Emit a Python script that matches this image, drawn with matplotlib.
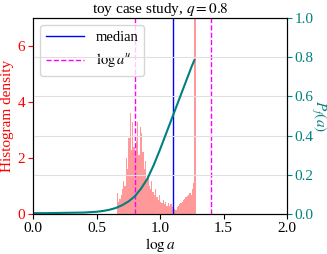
import numpy as np
import matplotlib
matplotlib.use("Agg")
import matplotlib.pyplot as plt

plt.rcParams['font.family'] = ['Liberation Serif', 'DejaVu Serif']
plt.rcParams['mathtext.fontset'] = 'stix'
plt.rcParams['font.size'] = 11

# histogram of log a (bin left edges, width 0.01) and densities
bin_left = [0.66, 0.67, 0.68, 0.69, 0.70, 0.71, 0.72, 0.73, 0.74, 0.75,
            0.76, 0.77, 0.78, 0.79, 0.80, 0.81, 0.82, 0.83, 0.84, 0.85,
            0.86, 0.87, 0.88, 0.89, 0.90, 0.91, 0.92, 0.93, 0.94, 0.95,
            0.96, 0.97, 0.98, 0.99, 1.00, 1.01, 1.02, 1.03, 1.04, 1.05,
            1.06, 1.07, 1.08, 1.09, 1.10, 1.11, 1.12, 1.13, 1.14, 1.15,
            1.16, 1.17, 1.18, 1.19, 1.20, 1.21, 1.22, 1.23, 1.24, 1.25,
            1.26, 1.27]
density = [0.75, 0.45, 0.55, 0.7, 0.9, 1.2, 1.0, 2.0, 1.6, 2.7,
           3.6, 2.3, 3.3, 2.4, 2.1, 2.6, 3.3, 2.1, 3.1, 2.9,
           2.2, 1.6, 1.9, 1.2, 1.4, 1.0, 0.9, 1.2, 0.8, 0.7,
           0.9, 0.6, 0.5, 0.7, 0.45, 0.4, 0.5, 0.35, 0.45, 0.3,
           0.4, 0.3, 0.35, 0.25, 0.3, 0.2, 0.15, 0.25, 0.3, 0.35,
           0.4, 0.45, 0.5, 0.55, 0.6, 0.65, 0.7, 0.75, 0.7, 0.9,
           1.1, 9.0]
bin_width = 0.01

# P_f(a) curve
curve_x = [0.0, 0.1, 0.2, 0.3, 0.4, 0.5, 0.55, 0.6, 0.65, 0.7, 0.75,
           0.8, 0.85, 0.9, 0.95, 1.0, 1.05, 1.1, 1.15, 1.2, 1.25, 1.27]
curve_y = [0.005, 0.005, 0.006, 0.007, 0.008, 0.012, 0.016, 0.022, 0.031,
           0.045, 0.064, 0.09, 0.13, 0.18, 0.25, 0.33, 0.415, 0.50, 0.585,
           0.67, 0.755, 0.785]

median = 1.1
log_au = [0.8, 1.4]

fig = plt.figure(figsize=(3.27, 2.54), dpi=100)
ax = fig.add_axes([0.101, 0.157, 0.777, 0.772])
ax2 = ax.twinx()

ax.bar(bin_left, density, width=bin_width, align='edge', color='red', alpha=0.4, linewidth=0)
ax.axvline(median, color='blue', lw=1, label='median')
ax.axvline(log_au[0], color='magenta', lw=1, ls='--', label=r'$\log a^u$')
ax.axvline(log_au[1], color='magenta', lw=1, ls='--')

ax.set_xlim(0, 2)
ax.set_ylim(0, 7)
ax.set_xlabel(r'$\log a$', labelpad=1)
ax.set_ylabel('Histogram density', color='red', labelpad=3)
ax.tick_params(axis='y', colors='red', pad=2)
ax.tick_params(axis='x', pad=2)
ax.set_xticks([0, 0.5, 1.0, 1.5, 2.0])
ax.legend(loc='upper left', fontsize=10.5, handlelength=2.6)

ax2.plot(curve_x, curve_y, color='teal', lw=1.5)
ax2.set_ylim(0, 1)
ax2.set_ylabel(r'$P_f(a)$', color='teal', rotation=-90, labelpad=10)
ax2.tick_params(axis='y', colors='teal', pad=2)
ax2.grid(axis='y', color='#e0e0e0', lw=0.8)
ax2.set_axisbelow(True)

ax.set_title(r'toy case study, $q = 0.8$', fontsize=11, pad=1)

fig.savefig('out.png', dpi=100)
